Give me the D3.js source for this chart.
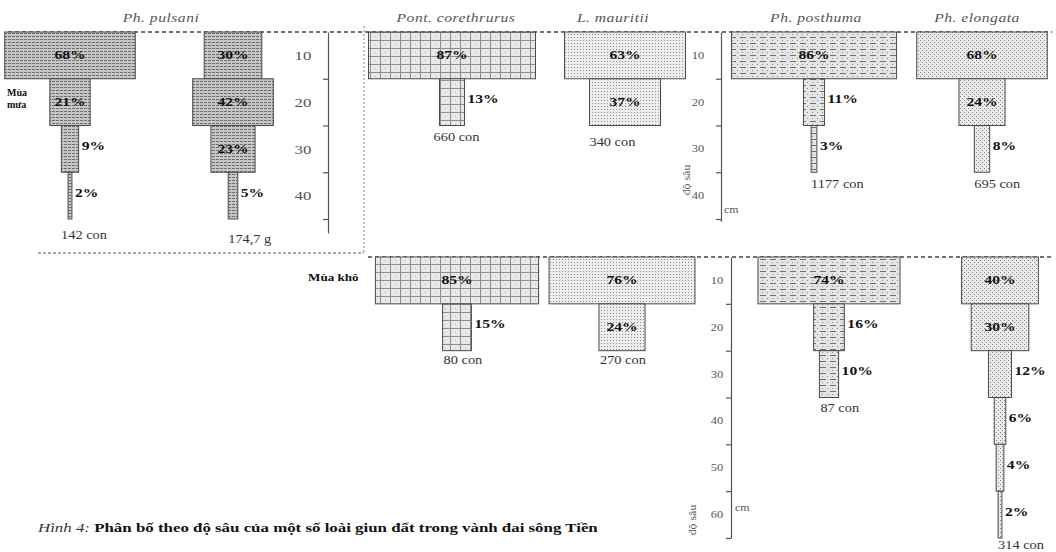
<!DOCTYPE html>
<html>
<head>
<meta charset="utf-8">
<script src="https://cdn.jsdelivr.net/npm/d3@7"></script>
<style>
  html, body { margin: 0; padding: 0; background: #fff; }
  svg { display: block; }
</style>
</head>
<body>
<svg id="chart" width="1056" height="552" font-family="'Liberation Serif', 'DejaVu Serif', serif"></svg>
<script>
// Percentage of earthworms found in each 10 cm soil layer, per species and season
const wetPulsaniCount = [68, 21, 9, 2];
const wetPulsaniMass  = [30, 42, 23, 5];
const wetPont         = [87, 13];
const wetLampito      = [63, 37];
const wetPosthuma     = [86, 11, 3];
const wetElongata     = [68, 24, 8];
const dryPont         = [85, 15];
const dryLampito      = [76, 24];
const dryPosthuma     = [74, 16, 10];
const dryElongata     = [40, 30, 12, 6, 4, 2];

const speciesTitles = ["Ph. pulsani", "Pont. corethrurus", "L. mauritii", "Ph. posthuma", "Ph. elongata"];
const wetTotals = ["142 con", "174,7 g", "660 con", "340 con", "1177 con", "695 con"];
const dryTotals = ["80 con", "270 con", "87 con", "314 con"];
const wetDepthTicks = [10, 20, 30, 40];
const dryDepthTicks = [10, 20, 30, 40, 50, 60];
const seasonLabels = ["Mùa", "mưa", "Mùa khô"];
const axisUnit = "cm";
const axisName = "độ sâu";
const captionLead = "Hình 4:";
const captionText = "Phân bố theo độ sâu của một số loài giun đất trong vành đai sông Tiền";

const svg = d3.select("#chart");
const FONT = "'Liberation Serif', 'DejaVu Serif', serif";
const SX = 1.25; // horizontal stretch of all lettering

// depth scales (cm -> px) and layer-width scale (% -> px)
const yWet = d3.scaleLinear().domain([0, 40]).range([32, 219]);
const yDry = d3.scaleLinear().domain([0, 60]).range([257, 538]);
const wScale = d3.scaleLinear().domain([0, 100]).range([0, 192]);

// ---------- fill patterns ----------
const defs = svg.append("defs");
function pattern(id, w, h, bg, draw) {
  const p = defs.append("pattern").attr("id", id).attr("patternUnits", "userSpaceOnUse")
    .attr("width", w).attr("height", h);
  p.append("rect").attr("width", w).attr("height", h).attr("fill", bg);
  draw(p);
}
pattern("pLines", 4, 3, "#c6c6c6", p => {
  p.append("rect").attr("x", 0).attr("y", 0).attr("width", 3).attr("height", 1).attr("fill", "#6f6f6f");
});
pattern("pGrid", 10, 8, "#e8e8e8", p => {
  p.append("rect").attr("x", 0).attr("y", 0).attr("width", 10).attr("height", 1).attr("fill", "#8d8d8d");
  p.append("rect").attr("x", 0).attr("y", 0).attr("width", 1).attr("height", 8).attr("fill", "#8d8d8d");
  p.append("rect").attr("x", 5).attr("y", 4).attr("width", 1).attr("height", 1).attr("fill", "#b5b5b5");
});
pattern("pFineDots", 3, 3, "#ededed", p => {
  p.append("rect").attr("x", 1).attr("y", 1).attr("width", 1).attr("height", 1).attr("fill", "#8e8e8e");
});
pattern("pDashes", 10, 6, "#e4e4e4", p => {
  p.append("rect").attr("x", 0).attr("y", 1).attr("width", 6).attr("height", 1).attr("fill", "#707070");
  p.append("rect").attr("x", 2).attr("y", 4).attr("width", 1).attr("height", 1).attr("fill", "#8a8a8a");
  p.append("rect").attr("x", 7).attr("y", 4).attr("width", 1).attr("height", 1).attr("fill", "#8a8a8a");
});
pattern("pDots", 4, 4, "#ebebeb", p => {
  p.append("rect").attr("x", 0).attr("y", 0).attr("width", 1).attr("height", 1).attr("fill", "#7f7f7f");
  p.append("rect").attr("x", 2).attr("y", 2).attr("width", 1).attr("height", 1).attr("fill", "#7f7f7f");
});

// ---------- text helper (stretched lettering) ----------
function label(parent, x, y, str, o = {}) {
  const sx = o.sx || SX;
  const tf = o.rotate
    ? `translate(${x},${y}) rotate(${o.rotate}) scale(${sx},1)`
    : `translate(${x},${y}) scale(${sx},1)`;
  const g = parent.append("g").attr("transform", tf);
  return g.append("text")
    .attr("font-family", FONT)
    .attr("text-anchor", o.anchor || "start")
    .attr("font-size", o.size || 12)
    .attr("font-weight", o.bold ? "bold" : "normal")
    .attr("font-style", o.italic ? "italic" : "normal")
    .attr("fill", o.color || "#111")
    .attr("letter-spacing", o.spacing || 0)
    .text(str);
}

// ---------- frame lines ----------
const frame = svg.append("g").attr("fill", "none");
frame.append("line").attr("x1", 8).attr("x2", 1052).attr("y1", yWet(0)).attr("y2", yWet(0))
  .attr("stroke", "#444").attr("stroke-width", 1.4).attr("stroke-dasharray", "4,3");
frame.append("line").attr("x1", 38).attr("x2", 364).attr("y1", 253).attr("y2", 253)
  .attr("stroke", "#555").attr("stroke-width", 1).attr("stroke-dasharray", "3,2");
frame.append("line").attr("x1", 364).attr("x2", 364).attr("y1", 26).attr("y2", 253)
  .attr("stroke", "#888").attr("stroke-width", 1).attr("stroke-dasharray", "2,2");
frame.append("line").attr("x1", 368).attr("x2", 1052).attr("y1", yDry(0)).attr("y2", yDry(0))
  .attr("stroke", "#444").attr("stroke-width", 1.4).attr("stroke-dasharray", "4,3");

// ---------- layered profiles ----------
const columns = [
  { values: wetPulsaniCount, y: yWet, cx: 70,  fill: "pLines",    total: wetTotals[0], tdx: -7, tdy: 20 },
  { values: wetPulsaniMass,  y: yWet, cx: 233, fill: "pLines",    total: wetTotals[1], tdx: 0,  tdy: 24 },
  { values: wetPont,         y: yWet, cx: 452, fill: "pGrid",     total: wetTotals[2], tdx: -6, tdy: 15 },
  { values: wetLampito,      y: yWet, cx: 625, fill: "pFineDots", total: wetTotals[3], tdx: 0,  tdy: 20 },
  { values: wetPosthuma,     y: yWet, cx: 814, fill: "pDashes",   total: wetTotals[4], tdx: 0,  tdy: 16 },
  { values: wetElongata,     y: yWet, cx: 982, fill: "pDots",     total: wetTotals[5], tdx: 0,  tdy: 16 },
  { values: dryPont,         y: yDry, cx: 457, fill: "pGrid",     total: dryTotals[0], tdx: 1,  tdy: 13 },
  { values: dryLampito,      y: yDry, cx: 622, fill: "pFineDots", total: dryTotals[1], tdx: 1,  tdy: 13 },
  { values: dryPosthuma,     y: yDry, cx: 829, fill: "pDashes",   total: dryTotals[2], tdx: 1,  tdy: 14 },
  { values: dryElongata,     y: yDry, cx: 1000, fill: "pDots",    total: dryTotals[3], tdx: 0,  tdy: 11 }
];

const bars = svg.append("g");
columns.forEach(col => {
  const g = bars.append("g");
  const layers = col.values.map((v, i) => ({ v, top: i * 10, bottom: (i + 1) * 10 }));
  g.selectAll("rect").data(layers).join("rect")
    .attr("x", d => col.cx - wScale(d.v) / 2)
    .attr("y", d => col.y(d.top))
    .attr("width", d => wScale(d.v))
    .attr("height", d => col.y(d.bottom) - col.y(d.top))
    .attr("fill", `url(#${col.fill})`)
    .attr("stroke", "#4a4a4a").attr("stroke-width", 1);

  layers.forEach(d => {
    const mid = (col.y(d.top) + col.y(d.bottom)) / 2;
    if (d.v >= 20) {
      label(g, col.cx, mid + 4, d.v + "%", { anchor: "middle", bold: true, size: 12.5 });
    } else {
      label(g, col.cx + wScale(d.v) / 2 + 3, mid + 1, d.v + "%", { bold: true, size: 12.5 });
    }
  });

  const last = layers[layers.length - 1];
  label(g, col.cx - wScale(last.v) / 2 + col.tdx, col.y(last.bottom) + col.tdy, col.total,
    { size: 11.5, color: "#333" });
});

// ---------- depth axes ----------
function depthAxis(x, yScale, ticks, endDepth, labelX, fontSize) {
  const ys = yScale.copy().domain([0, endDepth]).range([yScale(0), yScale(endDepth)]);
  const g = svg.append("g").attr("transform", `translate(${x},0)`)
    .call(d3.axisLeft(ys).tickValues(ticks).tickSize(5).tickSizeOuter(0).tickFormat(""));
  g.selectAll("path, line").attr("stroke", "#555").attr("stroke-width", 1.2);
  ticks.forEach(t => {
    label(svg, labelX, yScale(t - 5) + fontSize * 0.35, String(t),
      { anchor: "middle", size: fontSize, color: "#555" });
  });
}
depthAxis(328, yWet, wetDepthTicks, 43, 303, 13.5);
depthAxis(721, yWet, wetDepthTicks, 40.5, 698, 10);
depthAxis(731, yDry, dryDepthTicks, 60, 717, 10);

label(svg, 724, 213, axisUnit, { size: 9.5, color: "#555" });
label(svg, 735, 511, axisUnit, { size: 9.5, color: "#555" });
label(svg, 690, 180, axisName, { size: 9.5, color: "#555", anchor: "middle", rotate: -90 });
label(svg, 696, 520, axisName, { size: 9.5, color: "#555", anchor: "middle", rotate: -90 });

// ---------- species titles ----------
const titleX = [161, 456, 613, 816, 977];
speciesTitles.forEach((s, i) => {
  label(svg, titleX[i], 22, s, { anchor: "middle", italic: true, size: 12.5, color: "#555", spacing: 0.4 });
});

// ---------- season labels ----------
label(svg, 7, 96, seasonLabels[0], { bold: true, size: 10, sx: 1 });
label(svg, 7, 108, seasonLabels[1], { bold: true, size: 10, sx: 1 });
label(svg, 308, 281, seasonLabels[2], { bold: true, size: 10.5 });

// ---------- caption ----------
const cap = svg.append("g").attr("transform", `translate(38,532) scale(${SX},1)`);
const ct = cap.append("text").attr("font-family", FONT).attr("font-size", 13.5);
ct.append("tspan").attr("font-style", "italic").attr("fill", "#333").text(captionLead + " ");
ct.append("tspan").attr("font-weight", "bold").attr("fill", "#111").text(captionText);
</script>
</body>
</html>
